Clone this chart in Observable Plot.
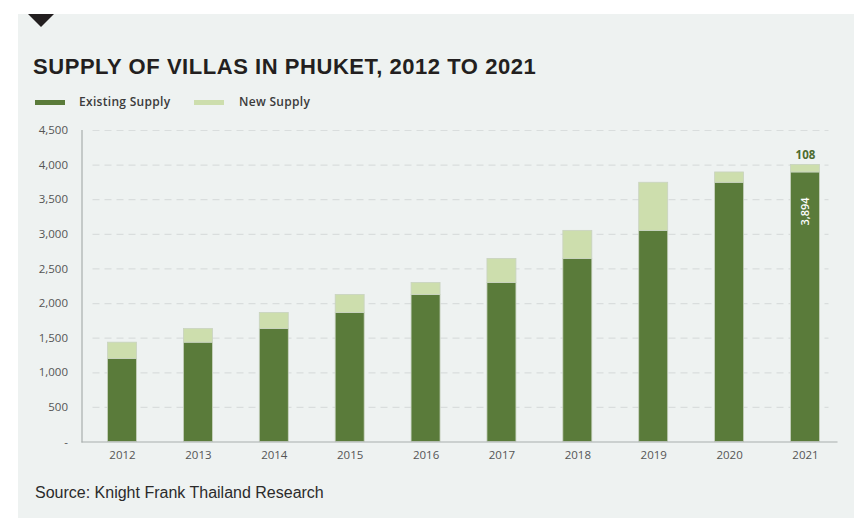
<!DOCTYPE html>
<html>
<head>
<meta charset="utf-8">
<script src="https://cdn.jsdelivr.net/npm/d3@7"></script>
<script src="https://cdn.jsdelivr.net/npm/@observablehq/plot@0.6"></script>
<style>
  html, body { margin: 0; padding: 0; background: #ffffff; }
  #page { position: relative; width: 854px; height: 518px; overflow: hidden; background: #ffffff; }
  #panel { position: absolute; left: 18px; top: 14px; width: 836px; height: 504px; background: #eef2f1; }
  #tri { position: absolute; left: 28px; top: 14px; width: 0; height: 0;
         border-left: 13px solid transparent; border-right: 13px solid transparent; border-top: 13px solid #231f20; }
  #title { position: absolute; left: 33px; top: 54px; font-family: "Liberation Sans", Arial, sans-serif;
           font-weight: bold; font-size: 22px; color: #231f20; white-space: nowrap; letter-spacing: 0.55px; }
  .leg { position: absolute; top: 93px; font-family: "Open Sans", sans-serif; font-weight: 600; font-size: 12px; letter-spacing: 0.3px; color: #3b3b3b; white-space: nowrap; }
  .sw { position: absolute; top: 100px; width: 30px; height: 5px; }
  #chart { position: absolute; left: 0; top: 120px; }
  #source { position: absolute; left: 35px; top: 484px; font-family: "Liberation Sans", Arial, sans-serif; font-size: 16px; color: #2b2b2b; white-space: nowrap; }
</style>
</head>
<body>
<div id="page">
  <div id="panel"></div>
  <div id="tri"></div>
  <div id="title">SUPPLY OF VILLAS IN PHUKET, 2012 TO 2021</div>
  <div id="legend"></div>
  <div id="chart"></div>
  <div id="source">Source: Knight Frank Thailand Research</div>
</div>
<script>
const years = ["2012","2013","2014","2015","2016","2017","2018","2019","2020","2021"];
const existingSupply = [1200, 1435, 1632, 1864, 2124, 2298, 2645, 3050, 3745, 3894];
const newSupply = [235, 197, 232, 260, 174, 347, 405, 695, 149, 108];
const seriesNames = ["Existing Supply", "New Supply"];
const seriesColors = ["#5a7b3a", "#cddead"];
const yTicks = [0, 500, 1000, 1500, 2000, 2500, 3000, 3500, 4000, 4500];
const yTickLabels = ["-", "500", "1,000", "1,500", "2,000", "2,500", "3,000", "3,500", "4,000", "4,500"];
const annotatedYear = "2021";
const annotatedExisting = "3,894";
const annotatedNew = "108";

// legend
const legend = document.getElementById("legend");
const legX = [[35, 79], [194, 239]];
seriesNames.forEach((name, i) => {
  const sw = document.createElement("div");
  sw.className = "sw"; sw.style.left = legX[i][0] + "px"; sw.style.background = seriesColors[i];
  legend.appendChild(sw);
  const t = document.createElement("div");
  t.className = "leg"; t.style.left = legX[i][1] + "px"; t.textContent = name;
  legend.appendChild(t);
});

const rows = [];
years.forEach((y, i) => {
  rows.push({year: y, series: seriesNames[0], value: existingSupply[i]});
  rows.push({year: y, series: seriesNames[1], value: newSupply[i]});
});
const ai = years.indexOf(annotatedYear);

const plot = Plot.plot({
  width: 854,
  height: 345,
  marginLeft: 81.5,
  marginRight: 8.5,
  marginTop: 10,
  marginBottom: 23.5,
  style: {background: "transparent", fontFamily: "Open Sans, sans-serif", fontSize: "11.5px", color: "#555"},
  x: {domain: years, paddingInner: 0.618, paddingOuter: 0.343, round: false, label: null, tickSize: 0, tickPadding: 9},
  y: {domain: [0, 4500], ticks: yTicks, tickFormat: d => yTickLabels[yTicks.indexOf(d)], label: null, tickSize: 0, tickPadding: 14},
  color: {domain: seriesNames, range: seriesColors},
  marks: [
    Plot.ruleY(yTicks.filter(d => d > 0), {stroke: "#d9dddd", strokeWidth: 1.2, strokeDasharray: "7,5", insetLeft: 11, insetRight: 17}),
    Plot.barY(rows, {x: "year", y: "value", fill: "series", stroke: "#c9d3c0", strokeWidth: 0.8}),
    Plot.ruleY([0], {stroke: "#a8adad", strokeWidth: 1.2, insetRight: 8}),
    Plot.frame({anchor: "left", stroke: "#a8adad", strokeWidth: 1.2}),
    Plot.text([ai], {x: i => years[i], y: i => existingSupply[i] + newSupply[i], text: () => annotatedNew,
      dy: -10, fill: "#4d6b30", fontWeight: "bold", fontSize: 11.5}),
    Plot.text([ai], {x: i => years[i], y: i => existingSupply[i], text: () => annotatedExisting,
      rotate: -90, textAnchor: "end", dy: 25, fill: "#ffffff", fontWeight: 600, fontSize: 11, letterSpacing: "0.5px"})
  ]
});
document.getElementById("chart").appendChild(plot);
</script>
</body>
</html>
